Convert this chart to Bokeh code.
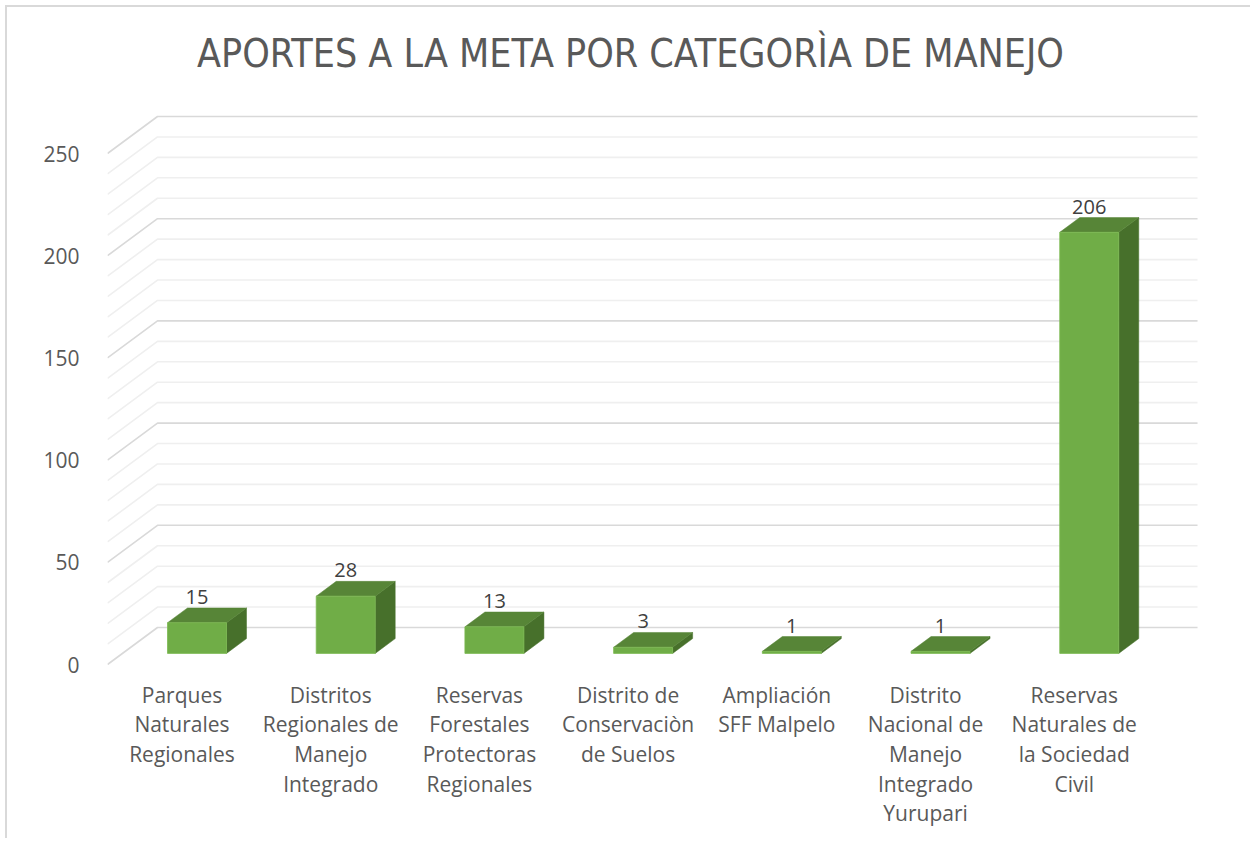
from bokeh.plotting import figure
from bokeh.models import FixedTicker, Label, Range1d
from bokeh.core.properties import value
from bokeh.embed import file_html
from bokeh.resources import INLINE

# ---------------- data ----------------
categories = [
    "Parques\nNaturales\nRegionales",
    "Distritos\nRegionales de\nManejo\nIntegrado",
    "Reservas\nForestales\nProtectoras\nRegionales",
    "Distrito de\nConservaciòn\nde Suelos",
    "Ampliación\nSFF Malpelo",
    "Distrito\nNacional de\nManejo\nIntegrado\nYurupari",
    "Reservas\nNaturales de\nla Sociedad\nCivil",
]
values = [15, 28, 13, 3, 1, 1, 206]
y_ticks = [0, 50, 100, 150, 200, 250]
grid_values = list(range(0, 251, 10))
title_text = "APORTES A LA META POR CATEGORÌA DE MANEJO"

# ---------------- style / geometry ----------------
PX_X = 148.7          # px per category
PX_Y = 2.044          # px per value unit
DX = 50 / PX_X        # depth offset (category units)
DY = 37 / PX_Y        # depth offset (value units)
BAR_W = 59 / PX_X
D_FRONT, D_BACK = 0.30, 0.70
X_START, X_END = -0.501, 6.849
WALL_END = 6.829
Y_START, Y_END = -2.935, 315.07
TITLE_X, TITLE_Y = 3.016, 299.0

FRONT_C = "#70AD47"
TOP_C = "#578537"
SIDE_C = "#47702B"
FONT = "Open Sans"

p = figure(
    frame_width=1093, frame_height=650,
    min_border_left=100, min_border_right=50, min_border_top=13, min_border_bottom=168,
    x_range=Range1d(X_START, X_END), y_range=Range1d(Y_START, Y_END),
    output_backend="svg", toolbar_location=None,
)
p.styles = {"border-top": "2px solid #d9d9d9", "border-left": "2px solid #d9d9d9",
            "margin-top": "5px", "margin-left": "5px"}
p.outline_line_color = None
p.xgrid.visible = False
p.ygrid.visible = False
p.background_fill_color = "white"

# back wall gridlines with diagonal floor projection
xs, ys, cols = [], [], []
for g in grid_values:
    xs.append([X_START, X_START + DX, WALL_END])
    ys.append([g, g + DY, g + DY])
    cols.append("#d9d9d9" if g % 50 == 0 else "#efefef")
p.multi_line(xs, ys, line_color=cols, line_width=1.6)

# 3D bars
side_x, side_y, top_x, top_y = [], [], [], []
lefts, rights, bottoms, tops = [], [], [], []
for i, v in enumerate(values):
    cx = i + D_FRONT * DX
    fl, fr = cx - BAR_W / 2, cx + BAR_W / 2
    fb = D_FRONT * DY
    ft = fb + v
    ddx = (D_BACK - D_FRONT) * DX
    ddy = (D_BACK - D_FRONT) * DY
    lefts.append(fl); rights.append(fr); bottoms.append(fb); tops.append(ft)
    side_x.append([fr, fr + ddx, fr + ddx, fr])
    side_y.append([fb, fb + ddy, ft + ddy, ft])
    top_x.append([fl, fr, fr + ddx, fl + ddx])
    top_y.append([ft, ft, ft + ddy, ft + ddy])

p.patches(side_x, side_y, fill_color=SIDE_C, line_color=SIDE_C, line_width=0.5)
p.patches(top_x, top_y, fill_color=TOP_C, line_color=TOP_C, line_width=0.5)
p.quad(left=lefts, right=rights, bottom=bottoms, top=tops,
       fill_color=FRONT_C, line_color="#7cba52", line_width=0.8)

# data labels
lab_x = [i + D_FRONT * DX for i in range(len(values))]
lab_y = [v + D_BACK * DY + 11 / PX_Y for v in values]
p.text(lab_x, lab_y, text=[str(v) for v in values],
       text_font=value(FONT), text_font_size="20px", text_color="#404040",
       text_align="center", text_baseline="middle")

# title
p.add_layout(Label(
    x=TITLE_X, y=TITLE_Y, text=title_text,
    text_font="'Liberation Sans Narrow', 'DejaVu Sans Condensed', sans-serif",
    text_font_size="39px", text_color="#595959",
    text_align="center", text_baseline="middle",
))

# axes
p.yaxis.ticker = FixedTicker(ticks=y_ticks)
p.yaxis.axis_line_color = None
p.yaxis.major_tick_line_color = None
p.yaxis.minor_tick_line_color = None
p.yaxis.major_label_standoff = 22
p.yaxis.major_label_text_font = FONT
p.yaxis.major_label_text_font_size = "21px"
p.yaxis.major_label_text_color = "#595959"

p.xaxis.ticker = FixedTicker(ticks=list(range(len(categories))))
p.xaxis.major_label_overrides = {i: c for i, c in enumerate(categories)}
p.xaxis.axis_line_color = None
p.xaxis.major_tick_line_color = None
p.xaxis.minor_tick_line_color = None
p.xaxis.major_label_standoff = 4
p.xaxis.major_label_text_font = FONT
p.xaxis.major_label_text_font_size = "21px"
p.xaxis.major_label_text_color = "#595959"
p.xaxis.major_label_text_line_height = 1.06

open("out.html", "w").write(file_html(p, INLINE))
